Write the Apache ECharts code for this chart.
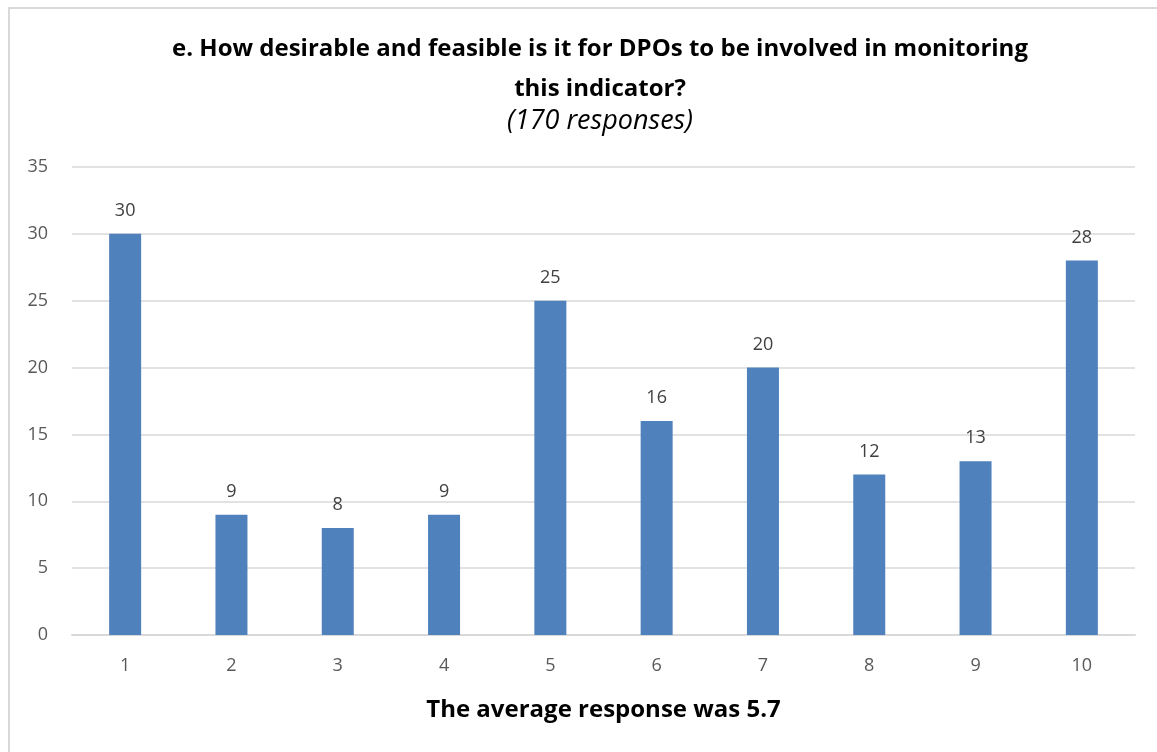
<!DOCTYPE html>
<html>
<head>
<meta charset="utf-8">
<script src="https://cdn.jsdelivr.net/npm/echarts@6/dist/echarts.min.js"></script>
<style>
html,body{margin:0;padding:0;background:#fff;}
#frame{position:absolute;left:8px;top:7px;width:1160px;height:760px;border:2px solid #d9d9d9;box-sizing:border-box;}
#chart{position:absolute;left:0;top:0;width:1157px;height:752px;}
</style>
</head>
<body>
<div id="frame"></div>
<div id="chart"></div>
<script>
const categories = ['1','2','3','4','5','6','7','8','9','10'];
const responses = [30, 9, 8, 9, 25, 16, 20, 12, 13, 28];
const titleLine1 = 'e. How desirable and feasible is it for DPOs to be involved in monitoring';
const titleLine2 = 'this indicator?';
const subtitleText = '(170 responses)';
const axisNameText = 'The average response was 5.7';

const chart = echarts.init(document.getElementById('chart'), null, {renderer:'canvas'});
const font = '"Open Sans", "Noto Sans", sans-serif';
chart.setOption({
  animation: false,
  title: [
    {text: titleLine1, left: 595, top: 32, textAlign: 'center',
     textStyle:{fontFamily: font, fontWeight:'bold', fontSize:24, color:'#000'}},
    {text: titleLine2, left: 595, top: 72, textAlign: 'center',
     textStyle:{fontFamily: font, fontWeight:'bold', fontSize:24, color:'#000'}},
    {text: subtitleText, left: 595, top: 103, textAlign: 'center',
     textStyle:{fontFamily: font, fontStyle:'italic', fontWeight:'normal', fontSize:27, color:'#000'}}
  ],
  grid: {left:72, right:22, top:167, bottom:117, containLabel:false},
  xAxis: {
    type:'category', data: categories,
    name: axisNameText, nameLocation:'middle', nameGap: 63,
    nameTextStyle:{fontFamily: font, fontWeight:'bold', fontSize:24, color:'#000'},
    axisLine:{lineStyle:{color:'#d9d9d9', width:2}},
    axisTick:{show:false},
    axisLabel:{fontFamily: font, fontSize:18, color:'#595959', margin:22}
  },
  yAxis: {
    type:'value', min:0, max:35, interval:5,
    axisLine:{show:false}, axisTick:{show:false},
    splitLine:{lineStyle:{color:'#d9d9d9', width:1.5}},
    axisLabel:{fontFamily: font, fontSize:18, color:'#595959', margin:24}
  },
  series: [{
    type:'bar', data: responses, barWidth: 32,
    itemStyle:{color:'#4f81bd'},
    label:{show:true, position:'top', distance:14, fontFamily: font, fontSize:18, color:'#404040'}
  }]
});
</script>
</body>
</html>
